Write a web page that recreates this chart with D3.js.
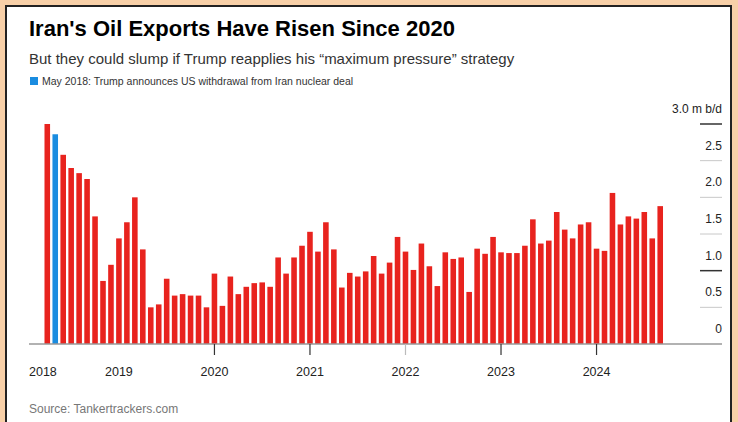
<!DOCTYPE html>
<html>
<head>
<meta charset="utf-8">
<script src="https://cdn.jsdelivr.net/npm/d3@7"></script>
<style>
  html, body { margin: 0; padding: 0; background: #f8d0a8; }
  svg { display: block; }
  text { font-family: "Liberation Sans", Arial, sans-serif; }
</style>
</head>
<body>
<svg id="chart" width="738" height="422"></svg>
<script>
// ---------- DATA (Iran crude exports, million barrels/day, monthly) ----------
const startMonth = "2018-04";
const exports2018 = [3.00, 2.86, 2.58, 2.40, 2.33, 2.25, 1.74, 0.86, 1.08];            // Apr–Dec
const exports2019 = [1.44, 1.66, 2.00, 1.29, 0.50, 0.54, 0.89, 0.66, 0.68, 0.66, 0.66, 0.50];
const exports2020 = [0.96, 0.52, 0.92, 0.68, 0.78, 0.83, 0.84, 0.78, 1.18, 0.96, 1.18, 1.34];
const exports2021 = [1.53, 1.26, 1.66, 1.29, 0.77, 0.97, 0.92, 0.99, 1.20, 0.96, 1.11, 1.46];
const exports2022 = [1.26, 1.01, 1.37, 1.06, 0.79, 1.25, 1.16, 1.18, 0.71, 1.30, 1.23, 1.46];
const exports2023 = [1.25, 1.24, 1.24, 1.34, 1.70, 1.37, 1.41, 1.80, 1.56, 1.44, 1.63, 1.66];
const exports2024 = [1.30, 1.27, 2.06, 1.63, 1.74, 1.71, 1.80, 1.44, 1.88];            // Jan–Sep
const highlightMonth = "2018-05";
const yearLabels = ["2018", "2019", "2020", "2021", "2022", "2023", "2024"];
const yearTicks = ["2020", "2021", "2022", "2023", "2024"];
const yTickValues = [0, 0.5, 1, 1.5, 2, 2.5, 3];
const yTickLabels = ["0", "0.5", "1.0", "1.5", "2.0", "2.5", "3.0 m b/d"];

const titleText = "Iran's Oil Exports Have Risen Since 2020";
const subtitleText = "But they could slump if Trump reapplies his \u201cmaximum pressure\u201d strategy";
const legendText = "May 2018: Trump announces US withdrawal from Iran nuclear deal";
const sourceText = "Source: Tankertrackers.com";

// ---------- build table ----------
const values = [].concat(exports2018, exports2019, exports2020, exports2021, exports2022, exports2023, exports2024);
const parse = d3.timeParse("%Y-%m");
const fmt = d3.timeFormat("%Y-%m");
const t0 = parse(startMonth);
const months = d3.range(values.length).map(i => fmt(d3.timeMonth.offset(t0, i)));
const data = months.map((m, i) => ({ month: m, value: values[i] }));

// ---------- layout ----------
const svg = d3.select("#chart");
const W = 738, H = 422;

svg.append("rect").attr("x", 6).attr("y", 6).attr("width", 725).attr("height", H)
  .attr("fill", "#fff").attr("stroke", "#222").attr("stroke-width", 2);

const x = d3.scaleBand().domain(months).range([43.3, 664.2]).paddingInner(0.3).paddingOuter(0.15);
const y = d3.scaleLinear().domain([0, 3]).range([344, 124]);

// titles
svg.append("text").attr("x", 29).attr("y", 36).text(titleText)
  .attr("font-size", 22).attr("font-weight", "bold").attr("fill", "#000");
svg.append("text").attr("x", 29).attr("y", 64).text(subtitleText)
  .attr("font-size", 15).attr("fill", "#333");
svg.append("rect").attr("x", 30).attr("y", 77).attr("width", 8).attr("height", 8).attr("fill", "#1a8ce0");
svg.append("text").attr("x", 42).attr("y", 85).text(legendText)
  .attr("font-size", 10.5).attr("fill", "#333");

// y ticks (right side)
const yg = svg.append("g");
yg.selectAll("line").data(yTickValues.filter(v => v > 0)).join("line")
  .attr("x1", 700).attr("x2", 722)
  .attr("y1", d => y(d)).attr("y2", d => y(d))
  .attr("stroke", d => (d === 3 || d === 1) ? "#333" : "#c8c8c8")
  .attr("stroke-width", d => (d === 3 || d === 1) ? 1.5 : 1);
yg.selectAll("text").data(yTickValues).join("text")
  .attr("x", 722).attr("y", d => y(d) - 11)
  .attr("text-anchor", "end").attr("font-size", 12).attr("fill", "#222")
  .text((d, i) => yTickLabels[i]);

// bars
svg.append("g").selectAll("rect").data(data).join("rect")
  .attr("x", d => x(d.month)).attr("width", x.bandwidth())
  .attr("y", d => y(d.value)).attr("height", d => y(0) - y(d.value))
  .attr("fill", d => d.month === highlightMonth ? "#1a8ce0" : "#e8231e");

// baseline
svg.append("line").attr("x1", 29).attr("x2", 722).attr("y1", y(0)).attr("y2", y(0))
  .attr("stroke", "#999").attr("stroke-width", 1.5);

// x ticks & labels
const xc = m => x(m) + x.bandwidth() / 2;
svg.append("g").selectAll("line").data(yearTicks).join("line")
  .attr("x1", d => xc(d + "-01")).attr("x2", d => xc(d + "-01"))
  .attr("y1", y(0)).attr("y2", y(0) + 11)
  .attr("stroke", d => d === "2022" ? "#bbb" : "#333").attr("stroke-width", 1.2);
svg.append("g").selectAll("text").data(yearLabels).join("text")
  .attr("x", d => d === "2018" ? 29 : xc(d + "-01"))
  .attr("y", 376)
  .attr("text-anchor", d => d === "2018" ? "start" : "middle")
  .attr("font-size", 12.5).attr("fill", "#222")
  .text(d => d);

// source
svg.append("text").attr("x", 29).attr("y", 413).text(sourceText)
  .attr("font-size", 12).attr("fill", "#777");
</script>
</body>
</html>
